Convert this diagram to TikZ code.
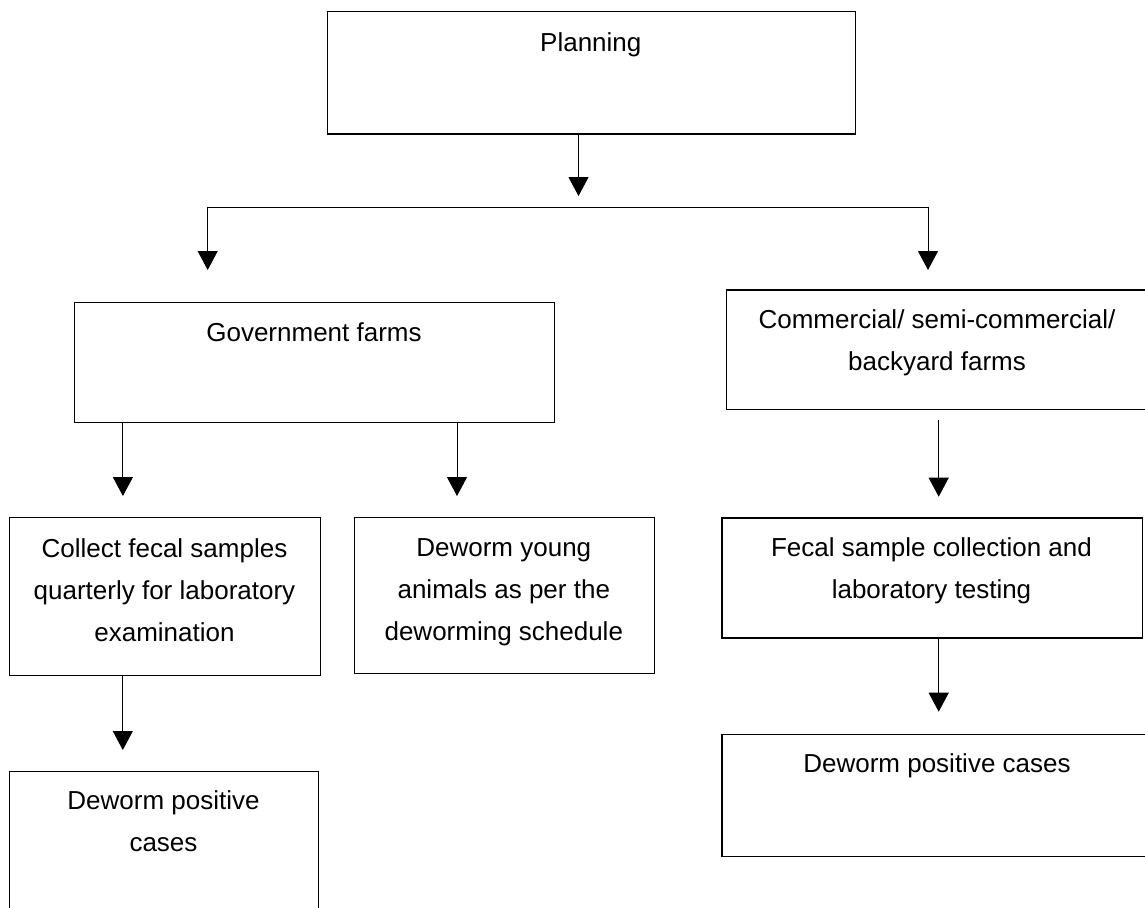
\documentclass[tikz,border=0pt]{standalone}
\usepackage{fontspec}
\setmainfont{Liberation Sans}
\usetikzlibrary{arrows.meta}
\begin{document}
\begin{tikzpicture}[x=1pt,y=-1pt,
  box/.style={draw=black,line width=1.3pt,inner sep=0pt,anchor=north west},
  txt/.style={inner sep=0pt,anchor=north,align=center,font=\fontsize{26}{42}\selectfont},
  arr/.style={line width=1pt,-{Triangle[length=19pt,width=20pt]}}]
\useasboundingbox (0,0) rectangle (1145,907);
\clip (0,0) rectangle (1145,907);
\fill[white] (0,0) rectangle (1145,907);
% boxes
\node[box,minimum width=528.3pt,minimum height=122.6pt] (plan) at (326.7,10.7) {};
\node[box,minimum width=480pt,minimum height=119.8pt] (gov) at (74,301.7) {};
\node[box,minimum width=424.3pt,minimum height=119.7pt] (com) at (725.7,289.3) {};
\node[box,minimum width=311pt,minimum height=158pt] (col) at (9,517) {};
\node[box,minimum width=299.6pt,minimum height=156pt] (young) at (354,517) {};
\node[box,minimum width=420.4pt,minimum height=120pt] (fec) at (721.3,517.3) {};
\node[box,minimum width=431.7pt,minimum height=121.7pt] (dewr) at (721.3,734) {};
\node[box,minimum width=309pt,minimum height=190pt] (dewl) at (9,770.6) {};
% texts
\node[txt] (tplan) at (590.8,32.5) {Planning};
\node[txt] (tgov) at (314,322) {Government farms};
\node[txt] (tcom) at (937,309.5) {Commercial/ semi-commercial/\\backyard farms};
\node[txt] (tcol) at (164.5,538.5) {Collect fecal samples\\quarterly for laboratory\\examination};
\node[txt] (tyoung) at (503.8,538.5) {Deworm young\\animals as per the\\deworming schedule};
\node[txt] (tfec) at (931.5,537) {Fecal sample collection and\\laboratory testing};
\node[txt] (tdewr) at (937,753.5) {Deworm positive cases};
\node[txt] (tdewl) at (163.5,790.5) {Deworm positive\\cases};
% arrow end coordinates
\coordinate (p1) at (578.5,196);
\coordinate (hl) at (207.7,207.3);
\coordinate (hr) at (928,207.3);
\coordinate (gl) at (207.7,270);
\coordinate (gr) at (928,270);
\coordinate (g1) at (122.9,496);
\coordinate (g2) at (457,496);
\coordinate (c0) at (938.7,420);
\coordinate (c1) at (938.7,496.7);
\coordinate (l1) at (122.8,750);
\coordinate (f1) at (938.7,711.7);
% connectors
\draw[arr] (plan.south -| p1) -- (p1);
\draw[line width=1pt] (hl) -- (hr);
\draw[arr] (hl) -- (gl);
\draw[arr] (hr) -- (gr);
\draw[arr] (gov.south -| g1) -- (g1);
\draw[arr] (gov.south -| g2) -- (g2);
\draw[arr] (c0) -- (c1);
\draw[arr] (col.south -| l1) -- (l1);
\draw[arr] (fec.south -| f1) -- (f1);
\end{tikzpicture}
\end{document}
